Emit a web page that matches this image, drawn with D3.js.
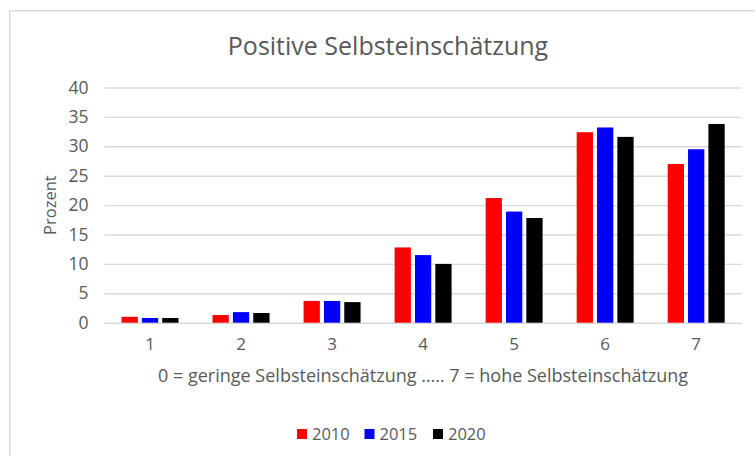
<!DOCTYPE html>
<html>
<head>
<meta charset="utf-8">
<script src="https://cdn.jsdelivr.net/npm/d3@7"></script>
<style>
  body { margin: 0; background: #fff; }
  text { font-family: "Open Sans", sans-serif; fill: #595959; }
</style>
</head>
<body>
<svg width="755" height="456"></svg>
<script>
// data
const categories = ["1", "2", "3", "4", "5", "6", "7"]
const years = ["2010", "2015", "2020"]
const colors = ["#ff0000", "#0000ff", "#000000"]
const values2010 = [1.0, 1.3, 3.7, 12.8, 21.2, 32.4, 27.0]
const values2015 = [0.8, 1.8, 3.7, 11.5, 18.9, 33.2, 29.5]
const values2020 = [0.8, 1.65, 3.5, 10.0, 17.8, 31.6, 33.8]
const yTicks = [0, 5, 10, 15, 20, 25, 30, 35, 40]

const series = [values2010, values2015, values2020]

const width = 755, height = 456
let margin = {top: 87.5, right: 13.3, bottom: 133.3, left: 104.5},
    plotWidth = width - margin.left - margin.right,
    plotHeight = height - margin.top - margin.bottom
// the chart area is cut off on the right, its centre sits at about x = 388
const chartCenter = 388

const svg = d3.select("svg")

// light frame around the chart area (runs off right / bottom like the screenshot)
svg.append("rect")
  .attr("x", 9.75)
  .attr("y", 10.75)
  .attr("width", 800)
  .attr("height", 500)
  .attr("fill", "none")
  .attr("stroke", "#d9d9d9")
  .attr("stroke-width", 1.5)

const g = svg.append("g")
  .attr("transform", `translate(${margin.left}, ${margin.top})`)

const x = d3.scaleBand()
  .domain(categories)
  .range([0, plotWidth])
  .paddingInner(0.374)
  .paddingOuter(0.187)

const xInner = d3.scaleBand()
  .domain(years)
  .range([0, x.bandwidth()])
  .paddingInner(0.2)

const y = d3.scaleLinear()
  .domain([0, 40])
  .range([plotHeight, 0])

// gridlines + y labels
const yAxis = d3.axisLeft(y).tickValues(yTicks).tickSize(-plotWidth).tickPadding(16)
const yAxisG = g.append("g").call(yAxis)
yAxisG.select(".domain").remove()
yAxisG.selectAll(".tick line")
  .attr("stroke", "#d9d9d9")
  .attr("stroke-width", 1.4)
yAxisG.selectAll(".tick text")
  .attr("font-size", "17.5px")
  .attr("fill", "#595959")
  .style("font-family", "'Open Sans', sans-serif")

// bars
const groups = g.selectAll(".cat")
  .data(categories)
  .enter()
  .append("g")
  .attr("class", "cat")
  .attr("transform", d => `translate(${x(d)}, 0)`)

groups.selectAll("rect")
  .data((d, i) => years.map((yr, j) => ({year: yr, value: series[j][i], color: colors[j]})))
  .enter()
  .append("rect")
  .attr("x", d => xInner(d.year))
  .attr("y", d => y(d.value))
  .attr("width", xInner.bandwidth())
  .attr("height", d => plotHeight - y(d.value))
  .attr("fill", d => d.color)

// x axis labels
const xAxis = d3.axisBottom(x).tickSize(0).tickPadding(15)
const xAxisG = g.append("g")
  .attr("transform", `translate(0, ${plotHeight})`)
  .call(xAxis)
xAxisG.select(".domain").remove()
xAxisG.selectAll(".tick text")
  .attr("font-size", "17px")
  .attr("fill", "#595959")
  .style("font-family", "'Open Sans', sans-serif")

// titles
svg.append("text")
  .attr("x", chartCenter)
  .attr("y", 55)
  .attr("text-anchor", "middle")
  .attr("font-size", "25px")
  .text("Positive Selbsteinschätzung")

svg.append("text")
  .attr("x", margin.left + plotWidth / 2)
  .attr("y", 382)
  .attr("text-anchor", "middle")
  .attr("font-size", "18px")
  .text("0 = geringe Selbsteinschätzung ….. 7 = hohe Selbsteinschätzung")

svg.append("text")
  .attr("transform", `translate(56, ${margin.top + plotHeight / 2}) rotate(-90)`)
  .attr("text-anchor", "middle")
  .attr("font-size", "16.5px")
  .text("Prozent")

// legend
const legend = svg.append("g")
  .attr("transform", "translate(297, 429)")
const legendX = [0, 67.5, 136]
years.forEach(function(yr, i) {
  legend.append("rect")
    .attr("x", legendX[i])
    .attr("y", 0)
    .attr("width", 10)
    .attr("height", 10)
    .attr("fill", colors[i])
  legend.append("text")
    .attr("x", legendX[i] + 15)
    .attr("y", 10.5)
    .attr("font-size", "16.5px")
    .text(yr)
})
</script>
</body>
</html>
